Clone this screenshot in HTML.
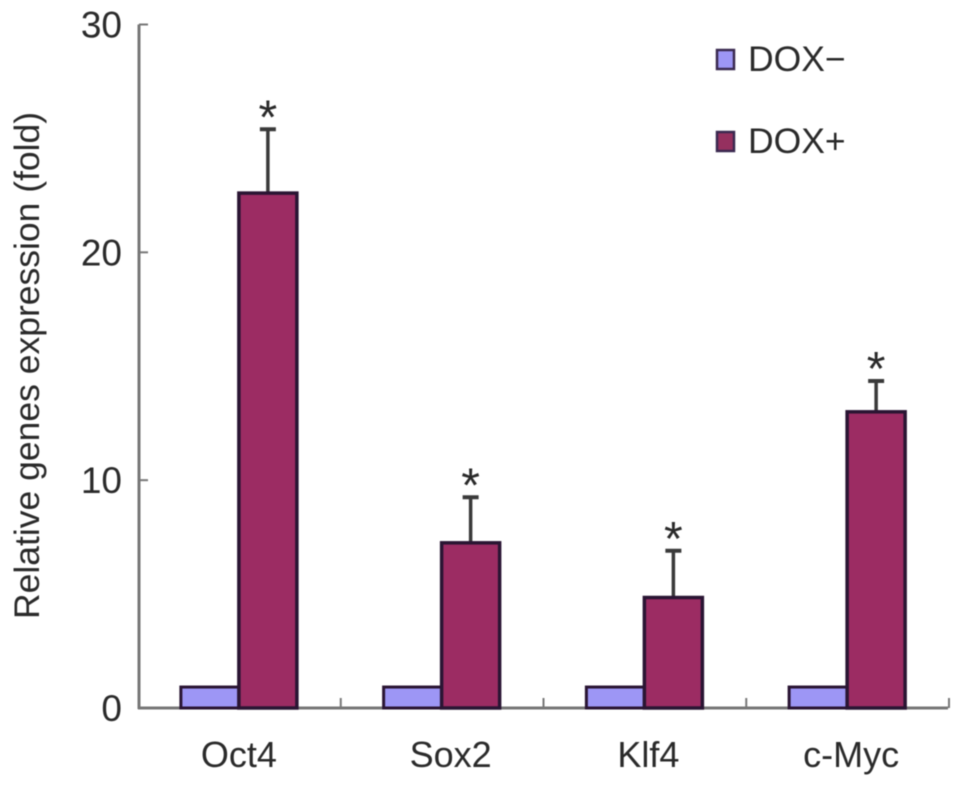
<!DOCTYPE html>
<html>
<head>
<meta charset="utf-8">
<style>
html,body{margin:0;padding:0;background:#fff;}
svg{display:block;filter:blur(0.6px);}
text{font-family:"Liberation Sans",sans-serif;fill:#2a2a2a;}
</style>
</head>
<body>
<svg id="chart" width="969" height="785" viewBox="0 0 969 785" xmlns="http://www.w3.org/2000/svg"></svg>
<script>
const categories = ["Oct4", "Sox2", "Klf4", "c-Myc"];
const doxMinus = [0.92, 0.92, 0.92, 0.92];
const doxPlus = [22.6, 7.25, 4.85, 13.0];
const doxPlusError = [2.8, 2.0, 2.05, 1.35];
const yTicks = [0, 10, 20, 30];
const seriesNames = ["DOX\u2212", "DOX+"];
const yAxisTitle = "Relative genes expression (fold)";

const svg = document.getElementById('chart');
const NS = 'http://www.w3.org/2000/svg';
const y0 = 708, yTop = 24.5, yMax = 30;
const xLeft = 139, xRight = 950;
const barW = 58;
const COLOR_A = '#9d96f5', COLOR_B = '#9c2c63', STROKE = '#2a1533', AXIS = '#777777';

function yScale(v) { return y0 - (v / yMax) * (y0 - yTop); }
function groupLeft(i) { return xLeft + (i * (xRight - xLeft)) / categories.length; }
function groupCenter(i) { return groupLeft(i) + (xRight - xLeft) / categories.length / 2 - 1.5; }
function labelCenter(i) { return groupCenter(i) + (i === 0 ? 0 : i === 1 ? 9 : 4); }

function make(tag, attrs, text) {
  const el = document.createElementNS(NS, tag);
  for (const k in attrs) el.setAttribute(k, attrs[k]);
  if (text !== undefined) el.textContent = text;
  svg.appendChild(el);
  return el;
}

// Axes
let el = make('line', {x1: xLeft, y1: yTop, x2: xLeft, y2: y0 + 1, stroke: AXIS, 'stroke-width': 3});


el = make('line', {x1: xLeft - 1, y1: y0, x2: xRight - 2, y2: y0, stroke: AXIS, 'stroke-width': 3});



// Y ticks and labels
yTicks.forEach(function (t) {
  const y = yScale(t);
  const tick = make('line', {x1: xLeft, y1: y, x2: xLeft + 9, y2: y, stroke: AXIS, 'stroke-width': 2});
  
  
  const label = make('text', {x: 122, y: y + 13, 'text-anchor': 'end', 'font-size': 37}, String(t));
  
  
});

// X ticks
categories.forEach(function (c, i) {
  const x = groupLeft(i + 1) - 1;
  const tick = make('line', {x1: x, y1: y0 - 10, x2: x, y2: y0, stroke: AXIS, 'stroke-width': 2});
  
  
});

// Bars
categories.forEach(function (c, i) {
  const cx = groupCenter(i);
  const midB = cx + barW / 2;
  const topA = yScale(doxMinus[i]);
  const barA = make('rect', {x: cx - barW, y: topA, width: barW, height: y0 - topA, fill: COLOR_A, stroke: STROKE, 'stroke-width': 3});
  
  

  const errTop = yScale(doxPlus[i] + doxPlusError[i]);
  const topB = yScale(doxPlus[i]);
  const stem = make('line', {x1: midB, y1: errTop, x2: midB, y2: topB, stroke: '#3a3a3a', 'stroke-width': 3.5});
  
  
  const cap = make('line', {x1: midB - 8, y1: errTop, x2: midB + 8, y2: errTop, stroke: '#3a3a3a', 'stroke-width': 4});
  
  

  const barB = make('rect', {x: cx, y: topB, width: barW, height: y0 - topB, fill: COLOR_B, stroke: STROKE, 'stroke-width': 3.5});
  
  

  const star = make('text', {x: midB, y: errTop + 4, 'text-anchor': 'middle', 'font-size': 48}, '*');
  
  

  const label = make('text', {x: labelCenter(i), y: 767, 'text-anchor': 'middle', 'font-size': 36}, c);
  
  
});

// Y title
el = make('text', {x: 0, y: 0, transform: 'translate(39 619) rotate(-90)', 'font-size': 35.5}, yAxisTitle);



// Legend
const legendY = [59, 141];
const legendColor = [COLOR_A, '#95305f'];
seriesNames.forEach(function (name, i) {
  const swatch = make('rect', {x: 717, y: legendY[i] - 9, width: 17, height: 19, fill: legendColor[i], stroke: '#3a2a50', 'stroke-width': 2.5});
  
  
  const label = make('text', {x: 748, y: legendY[i] + 12, 'font-size': 35.5}, name);
  
  
});
</script>
</body>
</html>
